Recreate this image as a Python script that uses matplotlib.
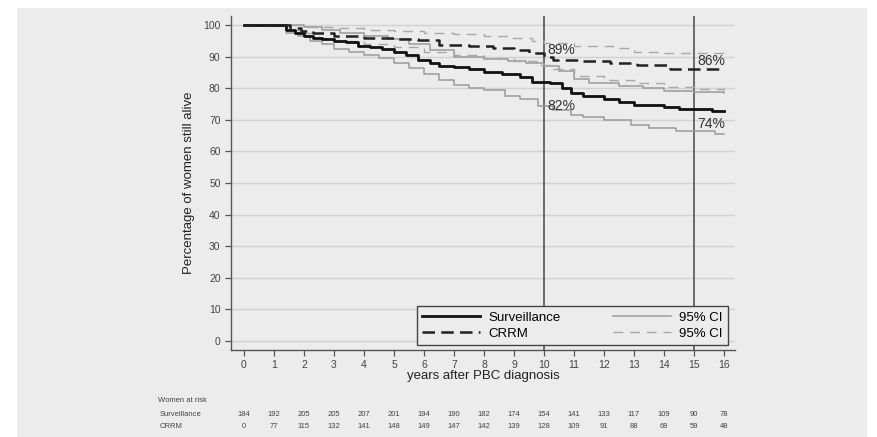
import matplotlib as mpl
import matplotlib.pyplot as plt
from matplotlib.patches import Rectangle

mpl.rcParams['font.family'] = 'Liberation Sans'

# Kaplan-Meier step curves (time in years, % alive)
surv_t = [0, 1.4, 1.7, 2.0, 2.3, 2.6, 3.0, 3.4, 3.8, 4.2, 4.6, 5.0, 5.4, 5.8, 6.2, 6.5,
          7.0, 7.5, 8.0, 8.6, 9.2, 9.6, 10.2, 10.6, 10.9, 11.3, 12.0, 12.5, 13.0, 14.0,
          14.5, 15.6, 16.0]
surv_v = [100, 98.5, 97.5, 96.5, 96, 95.5, 95, 94.5, 93.5, 93, 92.5, 91.5, 90.5, 89, 88, 87,
          86.8, 86, 85.2, 84.5, 83.5, 82, 81.5, 80, 78.5, 77.5, 76.5, 75.5, 74.7, 74.2,
          73.3, 72.8, 72.8]

surv_lo_t = [1.4, 1.8, 2.2, 2.6, 3.0, 3.5, 4.0, 4.5, 5.0, 5.5, 6.0, 6.5, 7.0, 7.5, 8.0, 8.7,
             9.2, 9.8, 10.3, 10.9, 11.3, 12.0, 12.9, 13.5, 14.4, 15.7, 16.0]
surv_lo_v = [97.5, 96.5, 95, 94, 92.5, 91.5, 90.5, 89.5, 88, 86.5, 84.5, 82.5, 81, 80.2, 79.5,
             77.5, 76.5, 74.5, 73, 71.5, 71, 70, 68.5, 67.5, 66.5, 65.5, 65.5]

surv_hi_t = [1.4, 2.0, 2.6, 3.2, 4.0, 4.8, 5.5, 6.2, 7.0, 8.0, 8.8, 9.4, 10.0, 10.5, 11.0,
             11.5, 12.5, 13.3, 14.0, 15.0, 16.0]
surv_hi_v = [100, 99.5, 98.5, 97.5, 96.5, 95.5, 94, 92, 90, 89.2, 88.5, 88, 87, 85.5, 83,
             81.8, 80.8, 80, 79.2, 78.8, 78.6]

crrm_t = [0, 1.55, 1.9, 2.3, 3.0, 4.0, 5.0, 5.8, 6.5, 7.5, 8.3, 9.0, 9.5, 10.0, 10.3, 11.2,
          12.2, 13.1, 14.2, 16.0]
crrm_v = [100, 99, 98, 97.4, 96.5, 96, 95.5, 95.3, 93.7, 93.5, 92.6, 92, 91, 90, 89, 88.5,
          88, 87.5, 86, 86]

crrm_hi_t = [1.6, 2.0, 3.0, 4.0, 5.0, 6.0, 7.0, 8.0, 8.8, 9.6, 10.0, 11.0, 12.3, 13.0, 14.0, 16.0]
crrm_hi_v = [100, 99.5, 99, 98.5, 98, 97.5, 97.3, 96.5, 96, 95, 94.3, 93.5, 92.8, 91.6, 91, 91]

crrm_lo_t = [1.6, 2.0, 2.5, 3.0, 4.0, 5.0, 6.0, 7.0, 8.0, 9.0, 9.8, 10.3, 11.0, 12.0, 13.0,
             14.0, 15.0, 16.0]
crrm_lo_v = [98.5, 97.5, 96, 95, 94, 93, 91.5, 90.5, 89.5, 88.5, 87.5, 86, 84, 82.5, 81.5,
             80.5, 79.8, 79.5]

# annotated estimates
pct_x = [10.1, 15.1, 10.1, 15.1]
pct_y = [92.0, 88.6, 74.4, 68.8]
pct_txt = ["89%", "86%", "82%", "74%"]

# numbers at risk
years = list(range(17))
risk_surv = [184, 192, 205, 205, 207, 201, 194, 190, 182, 174, 154, 141, 133, 117, 109, 90, 78]
risk_crrm = [0, 77, 115, 132, 141, 148, 149, 147, 142, 139, 128, 109, 91, 88, 69, 59, 48]

bg = '#ececec'
fig = plt.figure(figsize=(8.77, 4.37), dpi=100)
fig.patch.set_facecolor('white')
panel = Rectangle((17 / 877, 0), 850 / 877, 1 - 8 / 437, transform=fig.transFigure,
                  facecolor=bg, edgecolor='none', zorder=-10)
fig.add_artist(panel)

ax = fig.add_axes([231 / 877, 1 - 350 / 437, 504 / 877, 334 / 437])
ax.set_facecolor(bg)
ax.set_xlim(-0.433, 16.37)
ax.set_ylim(-2.85, 102.85)

for y in range(0, 101, 10):
    ax.axhline(y, color='#d2d2d2', lw=1.0, zorder=1)
for x in (10, 15):
    ax.axvline(x, color='#555555', lw=1.2, zorder=2)

grey = '#9a9a9a'
ax.step(surv_hi_t, surv_hi_v, where='post', color=grey, lw=1.1, zorder=3)
ax.step(surv_lo_t, surv_lo_v, where='post', color=grey, lw=1.1, zorder=3)
ax.step(crrm_hi_t, crrm_hi_v, where='post', color='#a8a8a8', lw=1.0,
        dashes=(7, 5), zorder=3)
ax.step(crrm_lo_t, crrm_lo_v, where='post', color='#a8a8a8', lw=1.0,
        dashes=(7, 5), zorder=3)
ax.step(surv_t, surv_v, where='post', color='#111111', lw=2.0, zorder=4)
ax.step(crrm_t, crrm_v, where='post', color='#222222', lw=1.8, dashes=(5, 2.5), zorder=4)

for x, y, t in zip(pct_x, pct_y, pct_txt):
    ax.text(x, y, t, fontsize=10, color='#333333', ha='left', va='center', zorder=5)

for s in ('top', 'right'):
    ax.spines[s].set_visible(False)
for s in ('left', 'bottom'):
    ax.spines[s].set_color('#555555')
    ax.spines[s].set_linewidth(1.0)

ax.set_xticks(years)
ax.set_yticks(range(0, 101, 10))
ax.tick_params(colors='#555555', labelcolor='#444444', labelsize=7.5, length=4, width=0.9)
ax.set_ylabel('Percentage of women still alive', fontsize=9.5, color='#222222', labelpad=6)
ax.set_xlabel('years after PBC diagnosis', fontsize=9.5, color='#222222', labelpad=0)

h1, = ax.plot([], [], color='#111111', lw=2.0)
h2, = ax.plot([], [], color='#222222', lw=1.8, dashes=(5, 2.5))
h3, = ax.plot([], [], color=grey, lw=1.1)
h4, = ax.plot([], [], color='#a8a8a8', lw=1.0, dashes=(7, 5))
leg = ax.legend([h1, h2, h3, h4], ['Surveillance', 'CRRM', '95% CI', '95% CI'],
                ncol=2, mode='expand', bbox_to_anchor=(0.369, 0.015, 0.617, 0.156),
                loc='lower left', fontsize=9.5, handlelength=4.4, handletextpad=0.6,
                borderaxespad=0, fancybox=False, framealpha=1, borderpad=0.4,
                labelspacing=0.3)
leg.get_frame().set_facecolor(bg)
leg.get_frame().set_edgecolor('#444444')
leg.get_frame().set_linewidth(1.0)
leg.set_zorder(6)

# numbers at risk table
fs = 5.5
fig.text(158 / 877, 1 - 400 / 437, 'Women at risk', fontsize=fs, color='#444444', va='center')
fig.text(160 / 877, 1 - 414 / 437, 'Surveillance', fontsize=fs, color='#444444', va='center')
fig.text(160 / 877, 1 - 427 / 437, 'CRRM', fontsize=fs, color='#444444', va='center')
for yr, a, b in zip(years, risk_surv, risk_crrm):
    xf = ax.transData.transform((yr, 0))[0] / fig.bbox.width
    fig.text(xf, 1 - 414 / 437, str(a), fontsize=fs, color='#444444', ha='center', va='center')
    fig.text(xf, 1 - 427 / 437, str(b), fontsize=fs, color='#444444', ha='center', va='center')

fig.savefig('out.png', dpi=100)
